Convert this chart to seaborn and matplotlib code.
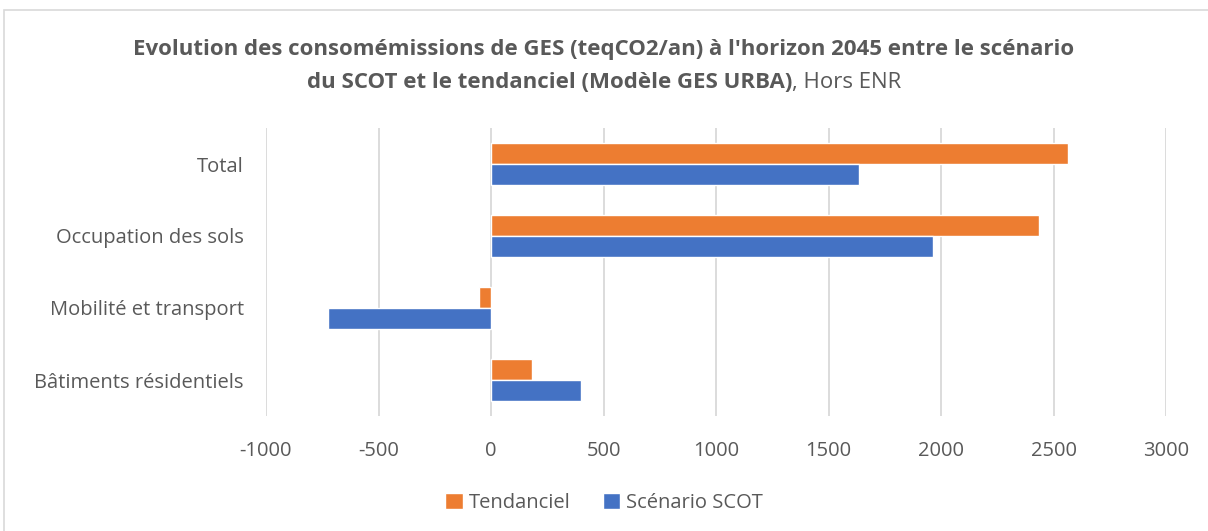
import seaborn as sns
import matplotlib.pyplot as plt
import pandas as pd
from matplotlib.patches import Rectangle

# Data
categories = ["Total", "Occupation des sols", "Mobilité et transport", "Bâtiments résidentiels"]
tendanciel = [2566, 2435, -52, 183]
scenario_scot = [1637, 1963, -723, 398]
series = ["Tendanciel", "Scénario SCOT"]
colors = ["#ED7D31", "#4472C4"]
xticks = [-1000, -500, 0, 500, 1000, 1500, 2000, 2500, 3000]

data = pd.DataFrame({
    "cat": categories * 2,
    "val": tendanciel + scenario_scot,
    "serie": [series[0]] * 4 + [series[1]] * 4,
})

sns.set_style("white")
plt.rcParams["font.family"] = ["Open Sans", "DejaVu Sans"]
grey = "#595959"

fig = plt.figure(figsize=(12.08, 5.31), dpi=100)
ax = fig.add_axes([266 / 1208, 1 - 416 / 531, 900 / 1208, 288 / 531])

sns.barplot(data=data, x="val", y="cat", hue="serie", orient="h",
            palette=colors, width=0.57, ax=ax, legend=True,
            saturation=1, order=categories, hue_order=series)

ax.set_xlim(-1000, 3000)
ax.set_xticks(xticks)
ax.set_xticklabels([str(t) for t in xticks], fontsize=14.5, color=grey)
ax.tick_params(axis="x", length=0, pad=18)
ax.tick_params(axis="y", length=0, pad=16, labelsize=14.5, labelcolor=grey)
ax.set_xlabel("")
ax.set_ylabel("")
ax.grid(axis="x", color="#D9D9D9", linewidth=1.3)
ax.set_axisbelow(True)
for s in ax.spines.values():
    s.set_visible(False)

leg = ax.legend(loc="center", bbox_to_anchor=(0.5, 1 - 503 / 531), bbox_transform=fig.transFigure,
                ncol=2, frameon=False, fontsize=14.5, handlelength=0.85, handleheight=0.85,
                handletextpad=0.3, columnspacing=1.6, labelcolor=grey)

# chart frame
fig.patches.append(Rectangle((4 / 1208, -0.1), 1.2, 1 - 10 / 531 + 0.1, transform=fig.transFigure,
                             fill=False, edgecolor="#D9D9D9", linewidth=1.2))

# title with bold / regular pieces
fs = 16
fig.text(0.5, 1 - 49 / 531, "Evolution des consomémissions de GES (teqCO2/an) à l'horizon 2045 entre le scénario",
         ha="center", va="center", fontsize=fs, fontweight="bold", color=grey)
fig.canvas.draw()
r = fig.canvas.get_renderer()
t1 = fig.text(0, 1 - 82 / 531, "du SCOT et le tendanciel (Modèle GES URBA)", ha="left", va="center",
              fontsize=fs, fontweight="bold", color=grey)
t2 = fig.text(0, 1 - 82 / 531, ", Hors ENR", ha="left", va="center", fontsize=fs, color=grey)
w1 = t1.get_window_extent(r).width / fig.bbox.width
w2 = t2.get_window_extent(r).width / fig.bbox.width
x0 = 0.5 - (w1 + w2) / 2
t1.set_x(x0)
t2.set_x(x0 + w1)

fig.savefig("out.png", dpi=100)
